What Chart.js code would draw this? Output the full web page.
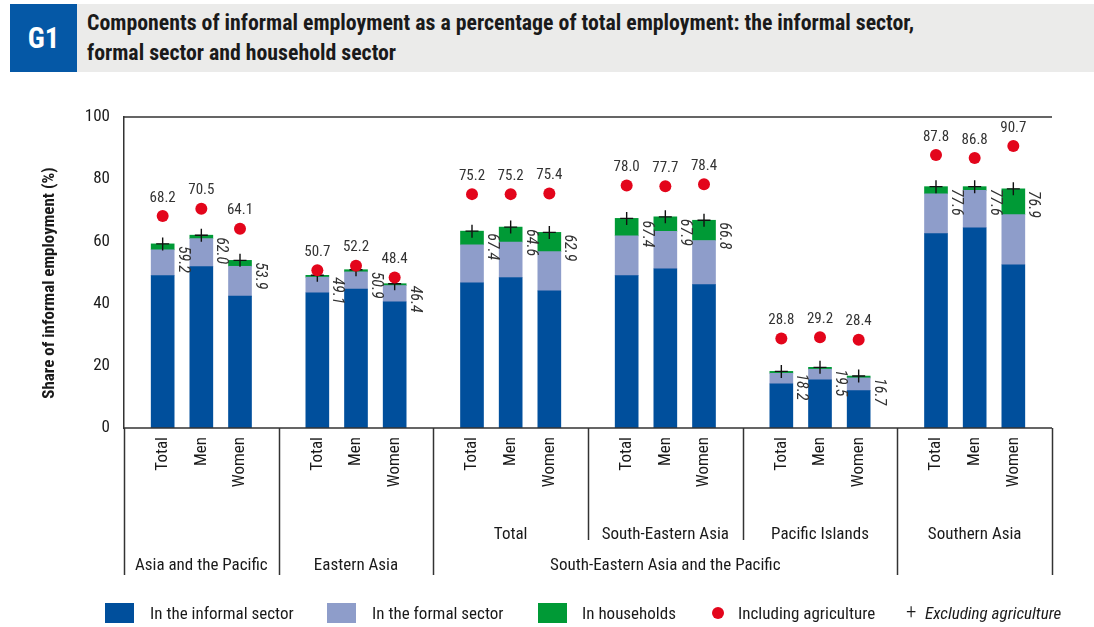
<!DOCTYPE html>
<html>
<head>
<meta charset="utf-8">
<script src="https://cdn.jsdelivr.net/npm/chart.js@4"></script>
<style>
  body { margin: 0; width: 1094px; height: 627px; background: #fff; position: relative; overflow: hidden;
         font-family: "Roboto Condensed", "DejaVu Sans Condensed", sans-serif; color: #1a1a1a; }
  .titlebar { position: absolute; left: 10px; top: 4px; width: 1084px; height: 68px; background: #ebebea; }
  .badge { position: absolute; left: 0; top: 0; width: 67px; height: 68px; background: #0558a6; color: #fff;
           font-weight: bold; font-size: 29px; text-align: center; line-height: 68px; }
  .title { position: absolute; left: 77px; top: 4px; font-weight: bold; font-size: 21.8px; line-height: 30px; }
  #chart { position: absolute; left: 0; top: 0; }
  .leg { position: absolute; top: 603px; font-size: 17px; line-height: 20px; white-space: nowrap; }
  .sw { position: absolute; top: 603px; width: 29px; height: 20px; }
</style>
</head>
<body>
<div class="titlebar">
  <div class="badge">G1</div>
  <div class="title">Components of informal employment as a percentage of total employment: the informal sector,<br>formal sector and household sector</div>
</div>
<canvas id="chart" width="1094" height="627"></canvas>

<div class="sw" style="left:105px;background:#004f9c"></div>
<div class="leg" style="left:150px">In the informal sector</div>
<div class="sw" style="left:327px;background:#8e9dca"></div>
<div class="leg" style="left:372px">In the formal sector</div>
<div class="sw" style="left:538px;background:#009a36"></div>
<div class="leg" style="left:582px">In households</div>
<div style="position:absolute;left:712px;top:607px;width:12px;height:12px;border-radius:6px;background:#e3051b"></div>
<div class="leg" style="left:738px">Including agriculture</div>
<div class="leg" style="left:906px;top:601px;font-size:21px;font-weight:300">+</div>
<div class="leg" style="left:925px"><i>Excluding agriculture</i></div>

<script>
// regions and breakdown
const regions = ['Asia and the Pacific', 'Eastern Asia', 'Total', 'South-Eastern Asia', 'Pacific Islands', 'Southern Asia'];
const subgroups = ['Total', 'Men', 'Women'];

// % of total employment, 18 bars (3 per region)
const informal   = [49.0, 51.9, 42.4, 43.5, 44.7, 40.6, 46.7, 48.4, 44.1, 49.0, 51.2, 46.1, 14.2, 15.5, 12.0, 62.5, 64.4, 52.5];
const formal     = [8.3, 9.0, 9.6, 5.0, 5.5, 5.2, 12.2, 11.4, 12.6, 12.8, 12.0, 14.2, 3.4, 3.4, 4.1, 12.8, 12.0, 16.1];
const households = [1.9, 1.1, 1.9, 0.6, 0.7, 0.6, 4.4, 4.8, 6.2, 5.6, 4.7, 6.5, 0.6, 0.6, 0.6, 2.3, 1.2, 8.3];
// printed labels
const exclAgri   = [59.2, 62.0, 53.9, 49.1, 50.9, 46.4, 67.4, 64.6, 62.9, 67.4, 67.9, 66.8, 18.2, 19.5, 16.7, 77.6, 77.6, 76.9];
const inclAgri   = [68.2, 70.5, 64.1, 50.7, 52.2, 48.4, 75.2, 75.2, 75.4, 78.0, 77.7, 78.4, 28.8, 29.2, 28.4, 87.8, 86.8, 90.7];

const FONT = '"Roboto Condensed", "DejaVu Sans Condensed", sans-serif';

// 4 slots per region, boundary slots are empty
const slot = i => Math.floor(i / 3) * 4 + (i % 3) + 1;
const labels = [];
regions.forEach(() => labels.push('', ...subgroups));
labels.push('');
const spread = arr => {
  const out = new Array(labels.length).fill(null);
  arr.forEach((v, i) => { out[slot(i)] = v; });
  return out;
};
const stackTop = informal.map((v, i) => +(v + formal[i] + households[i]).toFixed(1));

const extras = {
  id: 'extras',
  afterDraw(chart) {
    const ctx = chart.ctx;
    const x = chart.scales.x, y = chart.scales.y;
    const area = chart.chartArea;
    ctx.save();
    ctx.strokeStyle = '#333';
    ctx.lineWidth = 1.5;
    // frame line at 100 and baseline
    ctx.beginPath();
    ctx.moveTo(area.left, y.getPixelForValue(100));
    ctx.lineTo(area.right, y.getPixelForValue(100));
    ctx.moveTo(area.left, area.bottom);
    ctx.lineTo(area.right, area.bottom);
    ctx.stroke();
    // region separators
    for (let g = 0; g <= regions.length; g++) {
      const px = Math.round(x.getPixelForValue(g * 4)) + 0.5;
      const short = g === 3 || g === 4;
      ctx.beginPath();
      ctx.moveTo(px, area.bottom);
      ctx.lineTo(px, short ? 540 : 575);
      ctx.stroke();
    }
    ctx.fillStyle = '#1a1a1a';
    // subgroup labels
    ctx.font = '17px ' + FONT;
    informal.forEach((v, i) => {
      const px = x.getPixelForValue(slot(i));
      ctx.save();
      ctx.translate(px, area.bottom + 9);
      ctx.rotate(-Math.PI / 2);
      ctx.textAlign = 'right';
      ctx.textBaseline = 'middle';
      ctx.fillText(subgroups[i % 3], 0, 0);
      ctx.restore();
    });
    // region labels
    ctx.textAlign = 'center';
    ctx.textBaseline = 'middle';
    regions.forEach((r, g) => {
      const px = (x.getPixelForValue(g * 4) + x.getPixelForValue(g * 4 + 4)) / 2;
      ctx.fillText(r, px, g < 2 ? 566 : 535);
    });
    ctx.fillText('South-Eastern Asia and the Pacific',
      (x.getPixelForValue(8) + x.getPixelForValue(20)) / 2, 566);
    // including agriculture values
    ctx.font = '15px ' + FONT;
    ctx.fillStyle = '#333';
    inclAgri.forEach((v, i) => {
      ctx.fillText(v.toFixed(1), x.getPixelForValue(slot(i)), y.getPixelForValue(v) - 18);
    });
    // excluding agriculture values, rotated beside the bar
    ctx.font = 'italic 16px ' + FONT;
    exclAgri.forEach((v, i) => {
      ctx.save();
      ctx.translate(x.getPixelForValue(slot(i)) + 20, y.getPixelForValue(stackTop[i]) + 2);
      ctx.rotate(Math.PI / 2);
      ctx.textAlign = 'left';
      ctx.textBaseline = 'middle';
      ctx.fillText(v.toFixed(1), 0, 0);
      ctx.restore();
    });
    // y axis title
    ctx.save();
    ctx.translate(50, 283);
    ctx.rotate(-Math.PI / 2);
    ctx.font = 'bold 17px ' + FONT;
    ctx.fillStyle = '#1a1a1a';
    ctx.fillText('Share of informal employment (%)', 0, 0);
    ctx.restore();
    ctx.restore();
  }
};

new Chart(document.getElementById('chart'), {
  type: 'bar',
  data: {
    labels: labels,
    datasets: [{
      label: 'In the informal sector',
      data: spread(informal),
      backgroundColor: '#004f9c',
      stack: 'bars',
      barThickness: 23,
      order: 2
    }, {
      label: 'In the formal sector',
      data: spread(formal),
      backgroundColor: '#8e9dca',
      stack: 'bars',
      barThickness: 23,
      order: 2
    }, {
      label: 'In households',
      data: spread(households),
      backgroundColor: '#009a36',
      stack: 'bars',
      barThickness: 23,
      order: 2
    }, {
      type: 'line',
      label: 'Including agriculture',
      data: spread(inclAgri),
      stack: 'incl',
      showLine: false,
      pointStyle: 'circle',
      pointRadius: 6,
      pointBackgroundColor: '#e3051b',
      pointBorderWidth: 0,
      order: 0
    }, {
      type: 'line',
      label: 'Excluding agriculture',
      data: spread(stackTop),
      stack: 'excl',
      showLine: false,
      pointStyle: 'cross',
      pointRadius: 6.5,
      pointBorderColor: '#111',
      pointBorderWidth: 1.4,
      order: 1
    }]
  },
  options: {
    responsive: false,
    animation: false,
    layout: { padding: { top: 117, right: 42, bottom: 0, left: 0 } },
    plugins: { legend: { display: false }, tooltip: { enabled: false } },
    scales: {
      x: {
        stacked: true,
        offset: false,
        grid: { display: false },
        border: { display: false },
        ticks: { display: false },
        afterFit: s => { s.height = 627 - 428; }
      },
      y: {
        stacked: true,
        min: 0,
        max: 100,
        grid: { display: false, drawTicks: false },
        border: { display: true, color: '#333', width: 1.5 },
        ticks: { stepSize: 20, padding: 14, color: '#1a1a1a', font: { family: FONT, size: 17 } },
        afterFit: s => { s.width = 124; }
      }
    }
  },
  plugins: [extras]
});
</script>
</body>
</html>
